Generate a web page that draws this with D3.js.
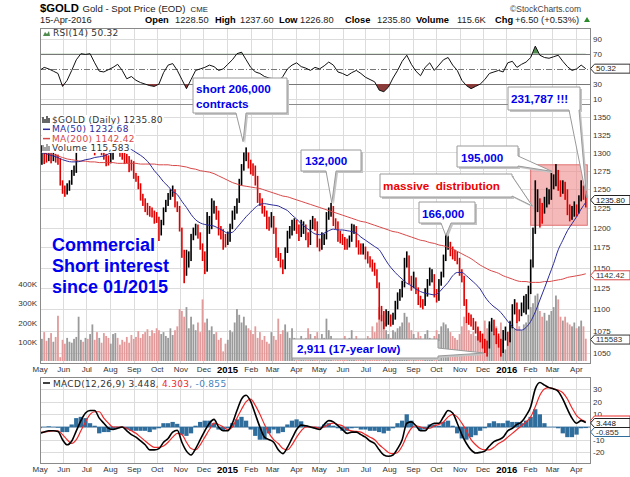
<!DOCTYPE html>
<html>
<head>
<meta charset="utf-8">
<script src="https://cdn.jsdelivr.net/npm/d3@7"></script>
<style>
  body { margin: 0; background: #fff; }
  text { font-family: "Liberation Sans", Arial, sans-serif; }
  .ax text { font-size: 8px; fill: #333; }
  .leg { font-family: "DejaVu Sans", Verdana, sans-serif; font-size: 9px; letter-spacing: 0.3px; }
  .note { font-weight: bold; font-size: 11.7px; }
</style>
</head>
<body>
<svg width="630" height="477"></svg>
<script>
// ---- data ----
// price bars, one per 3 calendar days from 1 May 2014
const priceLo = [
  1274,1283,1284,1286,1288,1285,1288,1286,1283,1255,
  1244,1240,1243,1248,1256,1268,1272,1308,1310,1310,
  1314,1312,1318,1325,1296,1300,1302,1296,1290,1281,
  1282,1285,1290,1302,1302,1294,1290,1284,1285,1273,
  1275,1264,1260,1250,1235,1228,1220,1216,1214,1213,
  1205,1206,1183,1190,1203,1220,1228,1236,1240,1226,
  1220,1195,1162,1131,1140,1150,1158,1184,1190,1186,
  1172,1158,1142,1145,1192,1198,1218,1210,1190,1185,
  1172,1175,1178,1182,1198,1210,1218,1232,1255,1275,
  1288,1278,1270,1268,1255,1232,1228,1218,1214,1198,
  1196,1200,1192,1162,1158,1150,1142,1148,1168,1186,
  1190,1196,1192,1183,1188,1192,1184,1175,1178,1198,
  1196,1175,1170,1172,1178,1185,1210,1214,1202,1198,
  1182,1180,1178,1172,1172,1175,1182,1192,1175,1166,
  1166,1166,1160,1155,1150,1145,1140,1125,1088,1086,
  1077,1080,1082,1080,1082,1088,1100,1110,1114,1126,
  1150,1130,1122,1125,1118,1105,1102,1100,1104,1115,
  1128,1132,1114,1108,1110,1128,1138,1158,1172,1164,
  1160,1158,1154,1140,1132,1104,1084,1082,1080,1076,
  1072,1064,1062,1055,1050,1046,1055,1074,1070,1060,
  1056,1046,1050,1064,1058,1062,1078,1094,1084,1086,
  1092,1096,1094,1100,1118,1150,1192,1220,1200,1205,
  1218,1226,1230,1236,1250,1254,1248,1240,1244,1236,
  1216,1208,1210,1214,1214,1218,1234,1236,1226
];
const priceHi = [
  1300,1310,1304,1300,1306,1300,1300,1298,1297,1292,
  1262,1255,1258,1262,1276,1282,1318,1325,1326,1324,
  1330,1328,1345,1342,1335,1318,1316,1314,1305,1298,
  1296,1300,1312,1320,1316,1312,1304,1300,1298,1295,
  1290,1288,1272,1268,1258,1244,1238,1232,1228,1226,
  1222,1220,1214,1210,1226,1236,1245,1250,1255,1250,
  1234,1228,1200,1172,1172,1170,1192,1200,1205,1204,
  1194,1180,1170,1220,1215,1238,1235,1228,1222,1202,
  1198,1192,1195,1205,1222,1228,1238,1264,1284,1300,
  1307,1300,1290,1285,1282,1268,1245,1238,1228,1222,
  1214,1220,1215,1200,1175,1168,1160,1175,1196,1202,
  1210,1212,1210,1204,1210,1208,1204,1194,1210,1215,
  1212,1208,1186,1194,1192,1220,1226,1232,1228,1212,
  1208,1196,1192,1188,1186,1190,1205,1204,1202,1184,
  1180,1180,1176,1170,1164,1160,1156,1148,1132,1104,
  1098,1100,1098,1094,1096,1110,1120,1124,1134,1162,
  1170,1165,1140,1145,1138,1126,1116,1112,1125,1136,
  1150,1148,1142,1124,1136,1145,1166,1192,1190,1182,
  1176,1172,1170,1162,1148,1140,1112,1096,1094,1090,
  1086,1080,1075,1072,1066,1064,1086,1090,1088,1078,
  1072,1066,1076,1080,1074,1086,1106,1112,1108,1100,
  1108,1116,1118,1128,1160,1200,1262,1250,1238,1232,
  1240,1252,1250,1272,1270,1284,1276,1262,1262,1260,
  1250,1230,1228,1234,1230,1242,1262,1255,1248
];
// volume in thousands, same dates
const volK = [
  130,115,150,105,120,145,100,125,235,20,
  110,90,120,100,95,115,125,230,110,100,
  120,115,140,190,110,150,120,95,145,130,
  120,90,140,145,120,85,110,100,125,95,
  135,115,125,155,120,140,150,165,130,160,
  145,170,160,140,150,130,120,170,135,160,
  180,270,260,230,280,170,230,190,160,200,
  150,320,200,220,160,180,140,150,110,120,
  50,90,110,160,150,200,270,240,200,230,
  185,170,160,140,180,120,150,110,130,100,
  90,150,130,110,220,140,160,190,150,120,
  170,120,100,90,130,110,120,170,140,100,
  130,150,110,140,120,220,160,130,110,100,
  90,110,100,130,90,120,160,110,130,100,
  90,80,110,130,120,180,150,200,280,240,
  200,160,140,120,160,150,170,180,200,250,
  230,200,160,140,120,150,130,110,140,160,
  120,100,130,160,140,180,200,190,170,150,
  130,120,110,140,180,230,200,160,140,150,
  130,170,150,140,210,170,190,150,140,180,
  130,200,110,60,80,210,190,170,200,180,
  160,190,200,240,280,300,340,350,260,230,
  250,210,240,260,280,340,320,230,210,230,
  200,190,180,200,170,180,210,180,116
];
// indicators, one value per 6 calendar days from 1 May 2014
const rsi = [
  48,52,50,47,44,27,35,48,62,70, 69,70,58,47,46,49,52,56,48,37,
  40,35,32,30,28,27,30,45,55,57, 48,36,24,36,48,50,52,55,53,48,
  50,56,62,70,72,62,52,46,44,40, 38,37,33,40,50,55,58,53,51,48,
  52,50,54,59,55,46,44,41,45,48, 44,39,36,33,22,20,26,38,48,60,
  68,56,47,41,52,58,48,55,62,65, 55,48,35,28,24,27,30,36,44,46,
  48,46,58,60,52,56,59,65,80,68, 65,64,66,68,60,53,48,50,55,50.32
];
const ma50 = [
  1300,1299,1297,1295,1293,1290,1288,1287,1287,1288, 1290,1291,1293,1294,1295,1298,1301,1304,1306,1306,
  1304,1300,1296,1291,1284,1275,1268,1260,1254,1247, 1243,1234,1226,1217,1210,1206,1204,1203,1202,1199,
  1196,1193,1194,1200,1207,1214,1220,1226,1230,1231, 1230,1229,1228,1225,1222,1216,1211,1205,1200,1196,
  1192,1191,1193,1196,1198,1197,1197,1196,1195,1193, 1188,1184,1180,1176,1172,1163,1154,1147,1141,1136,
  1131,1128,1124,1121,1119,1118,1117,1120,1126,1132, 1140,1144,1144,1140,1135,1130,1124,1115,1108,1103,
  1099,1093,1086,1080,1076,1076,1079,1086,1097,1111, 1125,1140,1155,1172,1184,1196,1205,1214,1224,1232.68
];
const ma200 = [
  1300,1300,1299,1297,1295,1293,1291,1290,1289,1288, 1288,1287,1287,1286,1286,1286,1286,1285,1285,1285,
  1285,1285,1284,1284,1284,1284,1283,1283,1283,1282, 1282,1281,1280,1278,1277,1275,1274,1273,1271,1268,
  1265,1262,1259,1257,1255,1254,1253,1252,1251,1249, 1247,1245,1243,1241,1240,1238,1236,1234,1232,1230,
  1228,1226,1224,1222,1220,1218,1216,1214,1212,1210, 1208,1207,1205,1203,1201,1199,1197,1195,1194,1192,
  1190,1188,1186,1184,1183,1181,1180,1178,1177,1175, 1173,1170,1167,1164,1161,1157,1153,1150,1147,1145,
  1143,1140,1138,1136,1134,1133,1133,1132,1132,1132, 1133,1133,1134,1135,1136,1138,1139,1140,1141,1142.42
];
const macd = [
  -5,-4,-3,-3,-3.5,-10,-14,-11,-3,5, 11,13,13,7,3,-1,-2,-1,0,-3,
  -6,-8,-11,-14,-18,-18,-17,-12,-9,-4, -2.5,-12,-19,-22,-17,-10,-3,3,6,0,
  -3,-3,3,13,22,25,20,10,0,-8, -10,-12,-18,-21,-16,-9,-2,1.5,1,0,
  -1,-2,2,5,4,1,-2,-5,-4,-4, -6,-8,-11,-13,-18,-22,-23,-22,-17,-10,
  3,4,1,-3,-3,1,3,3,8,13, 11,3,-6,-13,-18,-20.5,-20,-19,-15,-11.5,
  -10,-8,-3,-1,2,4,9,16,30,35, 33,31,30,28,22,14,7,3,5,3.448
];
const signal = [
  -4,-4,-3.5,-3,-3,-6,-10,-13,-10,-3, 4,10,12,12,7,3,0,0,0,-1,
  -3,-5,-8,-11,-14,-16,-16,-15,-12,-8, -5,-6,-12,-17,-18,-14,-8,-2,3,2,
  0,-2,0,7,14,20,22,17,10,2, -5,-10,-13,-17,-18,-14,-8,-3,0,0,
  0,-1,0,2,3,2,1,-2,-3,-3.5, -4,-6,-8,-10,-14,-17,-20,-21,-20,-15,
  -7,-1,1,0,-1,-1,1,2,4,8, 10,8,3,-3,-10,-14,-17,-18,-18,-16,
  -13,-11,-8,-5,-2,1,4,8,16,25, 30,31,30,29,27,22,15,9,6,4.303
];
const priceTicks = [1050,1075,1100,1125,1150,1175,1200,1225,1250,1275,1300,1325,1350];
const volTicks = [100,200,300,400];
const rsiTicks = [10,30,70,90];
const macdTicks = [-20,-10,10,20,30];

const start = new Date(Date.UTC(2014, 4, 1));
const end = new Date(Date.UTC(2016, 3, 15));
const barDates = d3.utcDay.range(start, end, 3);
const indDates = d3.utcDay.range(start, end, 6);

// ---- layout ----
const svg = d3.select("svg");
const L = 40, R = 590;
const rsiTop = 28, rsiBot = 104, mainTop = 104, mainBot = 363, macdTop = 377, macdBot = 463;

const x = d3.scaleUtc().domain([start, new Date(Date.UTC(2016, 3, 19))]).range([39.6, 589.6]);
const yP = d3.scaleLog().domain([1050, 1350]).range([353, 117]);
const yV = d3.scaleLinear().domain([0, 400]).range([361, 284]);
const yR = d3.scaleLinear().domain([10, 90]).range([99.3, 38.5]);
const yM = d3.scaleLinear().domain([-20, 30]).range([452.4, 388.9]);

const months = d3.utcMonth.range(start, new Date(Date.UTC(2016, 4, 1)));
const up = priceHi.map((h, i) => i === 0 ? true : (h + priceLo[i]) >= (priceHi[i - 1] + priceLo[i - 1]));

function clip(id, y0, y1) {
  svg.append("clipPath").attr("id", id).append("rect")
    .attr("x", L).attr("y", y0).attr("width", R - L).attr("height", y1 - y0);
}
clip("cR", rsiTop, rsiBot); clip("cP", mainTop, mainBot); clip("cM", macdTop, macdBot);

// grid
function grid(y0, y1, scale, ticks) {
  const g = svg.append("g").attr("stroke", "#dcdcdc").attr("stroke-width", 1);
  g.selectAll(".v").data(months).join("line")
    .attr("x1", d => Math.round(x(d)) + 0.5).attr("x2", d => Math.round(x(d)) + 0.5)
    .attr("y1", y0).attr("y2", y1);
  if (ticks) g.selectAll(".h").data(ticks).join("line")
    .attr("x1", L).attr("x2", R)
    .attr("y1", d => Math.round(scale(d)) + 0.5).attr("y2", d => Math.round(scale(d)) + 0.5);
}
grid(rsiTop, rsiBot, yR, [10, 90]);
grid(mainTop, mainBot, yP, priceTicks);
grid(macdTop, macdBot, yM, [-20, -10, 0, 10, 20, 30]);

// ---- RSI panel ----
const rsiG = svg.append("g").attr("clip-path", "url(#cR)");
[30, 70].forEach(v => rsiG.append("line").attr("x1", L).attr("x2", R)
  .attr("y1", Math.round(yR(v)) + 0.5).attr("y2", Math.round(yR(v)) + 0.5).attr("stroke", "#777"));
rsiG.append("line").attr("x1", L).attr("x2", R).attr("y1", Math.round(yR(50)) + 0.5).attr("y2", Math.round(yR(50)) + 0.5)
  .attr("stroke", "#777").attr("stroke-dasharray", "6,2,1,2");
svg.append("clipPath").attr("id", "below30").append("rect").attr("x", L).attr("y", yR(30)).attr("width", R - L).attr("height", rsiBot - yR(30));
svg.append("clipPath").attr("id", "above70").append("rect").attr("x", L).attr("y", rsiTop).attr("width", R - L).attr("height", yR(70) - rsiTop);
rsiG.append("path").datum(rsi).attr("clip-path", "url(#below30)").attr("fill", "#8c3b3b")
  .attr("d", d3.area().x((d, i) => x(indDates[i])).y0(yR(30)).y1(d => yR(d)));
rsiG.append("path").datum(rsi).attr("clip-path", "url(#above70)").attr("fill", "#4f8a4f")
  .attr("d", d3.area().x((d, i) => x(indDates[i])).y0(yR(70)).y1(d => yR(d)));
rsiG.append("path").datum(rsi).attr("fill", "none").attr("stroke", "#111").attr("stroke-width", 1)
  .attr("d", d3.line().x((d, i) => x(indDates[i])).y(d => yR(d)));

// ---- main panel ----
const mainG = svg.append("g").attr("clip-path", "url(#cP)");
mainG.selectAll(".vol").data(volK).join("rect")
  .attr("x", (d, i) => x(barDates[i]) - 0.9).attr("width", 1.8)
  .attr("y", d => yV(d)).attr("height", d => yV(0) - yV(d))
  .attr("fill", (d, i) => up[i] ? "#9a9a9a" : "#e39a9a");

// distribution box
const boxD = [new Date(Date.UTC(2016, 1, 2)), new Date(Date.UTC(2016, 3, 16))];
const boxP = [1203, 1283];
mainG.append("rect").attr("x", x(boxD[0])).attr("width", x(boxD[1]) - x(boxD[0]))
  .attr("y", yP(boxP[1])).attr("height", yP(boxP[0]) - yP(boxP[1]))
  .attr("fill", "#f08a8a").attr("fill-opacity", 0.6).attr("stroke", "#e07070");

mainG.selectAll(".bar").data(priceHi).join("rect")
  .attr("x", (d, i) => x(barDates[i]) - 0.8).attr("width", 1.6)
  .attr("y", d => yP(d)).attr("height", (d, i) => Math.max(1, yP(priceLo[i]) - yP(d)))
  .attr("fill", (d, i) => up[i] ? "#000" : "#e00000");

mainG.append("path").datum(ma200).attr("fill", "none").attr("stroke", "#d84848").attr("stroke-width", 1)
  .attr("d", d3.line().curve(d3.curveMonotoneX).x((d, i) => x(indDates[i])).y(d => yP(d)));
mainG.append("path").datum(ma50).attr("fill", "none").attr("stroke", "#2b2b9c").attr("stroke-width", 1)
  .attr("d", d3.line().curve(d3.curveMonotoneX).x((d, i) => x(indDates[i])).y(d => yP(d)));

// ---- MACD panel ----
const macdG = svg.append("g").attr("clip-path", "url(#cM)");
const hist = macd.map((m, i) => m - signal[i]);
macdG.selectAll(".h").data(hist).join("rect")
  .attr("x", (d, i) => x(indDates[i]) - 2.2).attr("width", 4.3)
  .attr("y", d => Math.min(yM(0), yM(d))).attr("height", d => Math.abs(yM(d) - yM(0)))
  .attr("fill", "#2f6d9c");
macdG.append("line").attr("x1", L).attr("x2", R).attr("y1", yM(0)).attr("y2", yM(0)).attr("stroke", "#2f6d9c").attr("stroke-width", 0.8);
macdG.append("path").datum(signal).attr("fill", "none").attr("stroke", "#ee2a2a").attr("stroke-width", 1.2)
  .attr("d", d3.line().curve(d3.curveMonotoneX).x((d, i) => x(indDates[i])).y(d => yM(d)));
macdG.append("path").datum(macd).attr("fill", "none").attr("stroke", "#000").attr("stroke-width", 1.6)
  .attr("d", d3.line().curve(d3.curveMonotoneX).x((d, i) => x(indDates[i])).y(d => yM(d)));

// panel frames
[[rsiTop, rsiBot], [mainTop, mainBot], [macdTop, macdBot]].forEach(([a, b]) =>
  svg.append("rect").attr("x", L + 0.5).attr("y", a + 0.5).attr("width", R - L).attr("height", b - a)
    .attr("fill", "none").attr("stroke", "#8a8a8a"));

// ---- axes ----
function rightAxis(scale, ticks, fmt) {
  const g = svg.append("g").attr("class", "ax").attr("transform", `translate(${R},0)`)
    .call(d3.axisRight(scale).tickValues(ticks).tickSize(0).tickPadding(3).tickFormat(fmt || (d => d)));
  g.select(".domain").remove();
}
rightAxis(yR, rsiTicks);
rightAxis(yP, priceTicks);
rightAxis(yM, macdTicks);
const va = svg.append("g").attr("class", "ax").attr("transform", `translate(${L - 2},0)`)
  .call(d3.axisLeft(yV).tickValues(volTicks).tickSize(0).tickPadding(1).tickFormat(d => d + "K"));
va.select(".domain").remove();

function monthAxis(y) {
  const g = svg.append("g").attr("class", "ax").attr("transform", `translate(0,${y})`)
    .call(d3.axisBottom(x).tickValues(months).tickSize(0).tickPadding(2)
      .tickFormat(d => d.getUTCMonth() === 0 ? d3.utcFormat("%Y")(d) : d3.utcFormat("%b")(d)));
  g.select(".domain").remove();
  g.selectAll("text").filter(d => d.getUTCMonth() === 0)
    .attr("font-weight", "bold").style("font-size", "9.5px").style("fill", "#000");
}
monthAxis(mainBot + 1);
monthAxis(macdBot + 1);

// value tags on the right edge
function tag(y, txt, stroke, color) {
  const g = svg.append("g").attr("transform", `translate(${R},${y})`);
  g.append("path").attr("d", "M0.5,0 L4.5,-4.5 H40 V4.5 H4.5 Z").attr("fill", "#fff").attr("stroke", stroke);
  if (txt) g.append("text").attr("x", 6).attr("y", 2.8).attr("font-size", 8).attr("fill", color).text(txt);
}
tag(yR(50.32), "50.32", "#333", "#222");
tag(yP(1142.42) + 1.5, "1142.42", "#d84848", "#333");
tag(yV(115.583) + 0.8, "115583", "#333", "#333");
tag(yP(1235.8), "1235.80", "#222", "#111");
tag(420.5, "", "#ee2a2a", "#333");
tag(432, "-0.855", "#2f6d9c", "#333");
tag(423, "3.448", "#222", "#111");

// ---- header ----
const hd = svg.append("g");
hd.append("text").attr("x", 40).attr("y", 12).attr("font-weight", "bold").attr("font-size", 11.3).text("$GOLD");
hd.append("text").attr("x", 82.5).attr("y", 12).attr("font-size", 9.6).attr("fill", "#222").text("Gold - Spot Price (EOD)");
hd.append("text").attr("x", 190.5).attr("y", 12).attr("font-size", 7.8).attr("fill", "#222").text("CME");
hd.append("text").attr("x", 510).attr("y", 12).attr("font-size", 8.5).attr("fill", "#444").text("\u00a9StockCharts.com");
hd.append("text").attr("x", 40).attr("y", 23).attr("font-size", 9.3).attr("fill", "#222").text("15-Apr-2016");
const quote = [["Open", 145], ["1228.50", 175], ["High", 215], ["1237.60", 240], ["Low", 279], ["1226.80", 300],
  ["Close", 345], ["1235.80", 377], ["Volume", 416], ["115.6K", 457], ["Chg", 495], ["+6.50 (+0.53%)", 515]];
quote.forEach(([t, xx], i) => hd.append("text").attr("x", xx).attr("y", 23).attr("font-size", 9.3)
  .attr("font-weight", i % 2 === 0 ? "bold" : "normal").attr("fill", i % 2 === 0 ? "#000" : "#222").text(t));
hd.append("path").attr("d", "M584,22 L587,17 L590,22 Z").attr("fill", "#2a8a2a");

// ---- legends ----
svg.append("path").attr("d", "M43,36 L45,32 L47,34 L49,31 L50,36 Z").attr("fill", "#4f8a4f");
svg.append("text").attr("class", "leg").attr("x", 53).attr("y", 36).attr("fill", "#333").text("RSI(14) 50.32");

const legItems = [
  { t: "$GOLD (Daily) 1235.80", c: "#333", mark: "bars" },
  { t: "MA(50) 1232.68", c: "#2b2b9c", mark: "line" },
  { t: "MA(200) 1142.42", c: "#d84848", mark: "line" },
  { t: "Volume 115,583", c: "#333", mark: "vol" }
];
legItems.forEach((it, i) => {
  const yy = 123 + i * 9.3;
  const bg = svg.append("rect").attr("fill", "#fff");
  const t = svg.append("text").attr("class", "leg").attr("x", 52).attr("y", yy).attr("fill", it.c).text(it.t);
  const bb = t.node().getBBox();
  bg.attr("x", 42).attr("y", bb.y).attr("width", bb.x + bb.width - 41).attr("height", bb.height);
  if (it.mark === "line") svg.append("line").attr("x1", 43).attr("x2", 50).attr("y1", yy - 3).attr("y2", yy - 3).attr("stroke", it.c).attr("stroke-width", 1.5);
  else svg.append("path").attr("d", `M43,${yy} v-6 M45,${yy} v-4 M47,${yy} v-7 M49,${yy} v-5`).attr("stroke", it.mark === "vol" ? "#666" : "#000").attr("stroke-width", 1.2);
});
svg.append("line").attr("x1", 43).attr("x2", 50).attr("y1", 383).attr("y2", 383).attr("stroke", "#000").attr("stroke-width", 1.5);
const ml = svg.append("text").attr("class", "leg").attr("x", 53).attr("y", 386.5);
ml.append("tspan").attr("fill", "#333").text("MACD(12,26,9) 3.448");
ml.append("tspan").attr("fill", "#ee2a2a").text(", 4.303");
ml.append("tspan").attr("fill", "#4a7fb8").text(", -0.855");

// ---- big caption ----
["Commercial", "Short interest", "since 01/2015"].forEach((t, i) =>
  svg.append("text").attr("x", 52).attr("y", 251 + i * 21).attr("font-weight", "bold").attr("font-size", 18)
    .attr("fill", "#0000f0").text(t));

// ---- callouts ----
const notes = [
  { lines: ["short 206,000", "contracts"], bx: 193, by: 78, bw: 94, bh: 35, side: "b", b0: 236, b1: 246, date: [2015, 0, 22], price: 1315, tx: 196, ty: [92.5, 108], c: "#0000ee" },
  { lines: ["132,000"], bx: 301, by: 150, bw: 60, bh: 21, side: "b", b0: 326, b1: 336, date: [2015, 4, 18], price: 1232, tx: 305, ty: [165], c: "#0000ee" },
  { lines: ["166,000"], bx: 419, by: 202, bw: 56, bh: 21, side: "b", b0: 441, b1: 451, date: [2015, 9, 14], price: 1190, tx: 422, ty: [217.5], c: "#0000ee" },
  { lines: ["195,000"], bx: 457, by: 146, bw: 61, bh: 21, side: "r", b0: 156, b1: 166, date: [2016, 2, 1], price: 1274, tx: 461, ty: [161.5], c: "#0000ee" },
  { lines: ["massive  distribution"], bx: 380, by: 174, bw: 132, bh: 23, side: "r", b0: 176, b1: 196, date: [2016, 1, 4], price: 1228, tx: 383, ty: [190], c: "#ee0000" },
  { lines: ["231,787 !!!"], bx: 508, by: 87, bw: 72, bh: 23, side: "b", b0: 569, b1: 579, date: [2016, 3, 15], price: 1239, tx: 511, ty: [103], c: "#0000ee" },
  { lines: ["2,911 (17-year low)"], bx: 292, by: 339, bw: 146, bh: 19, side: "r", b0: 348, b1: 356, date: [2015, 11, 3], price: 1050, tx: 297, ty: [353], c: "#0000ee" }
];
function calloutPath(n, px, py) {
  const x0 = n.bx, y0 = n.by, x1 = n.bx + n.bw, y1 = n.by + n.bh;
  if (n.side === "b") return `M${x0},${y0}H${x1}V${y1}H${n.b1}L${px},${py}L${n.b0},${y1}H${x0}Z`;
  return `M${x0},${y0}H${x1}V${n.b0}L${px},${py}L${x1},${n.b1}V${y1}H${x0}Z`;
}
notes.forEach(n => {
  const px = x(new Date(Date.UTC(...n.date))), py = yP(n.price);
  const d = calloutPath(n, px, py);
  svg.append("path").attr("d", d).attr("transform", "translate(2,2)").attr("fill", "#c4c4c4");
  svg.append("path").attr("d", d).attr("fill", "#fff").attr("stroke", "#9a9a9a");
  n.lines.forEach((t, i) => svg.append("text").attr("class", "note").attr("x", n.tx).attr("y", n.ty[i])
    .attr("fill", n.c).attr("xml:space", "preserve").style("white-space", "pre").text(t));
});
</script>
</body>
</html>
